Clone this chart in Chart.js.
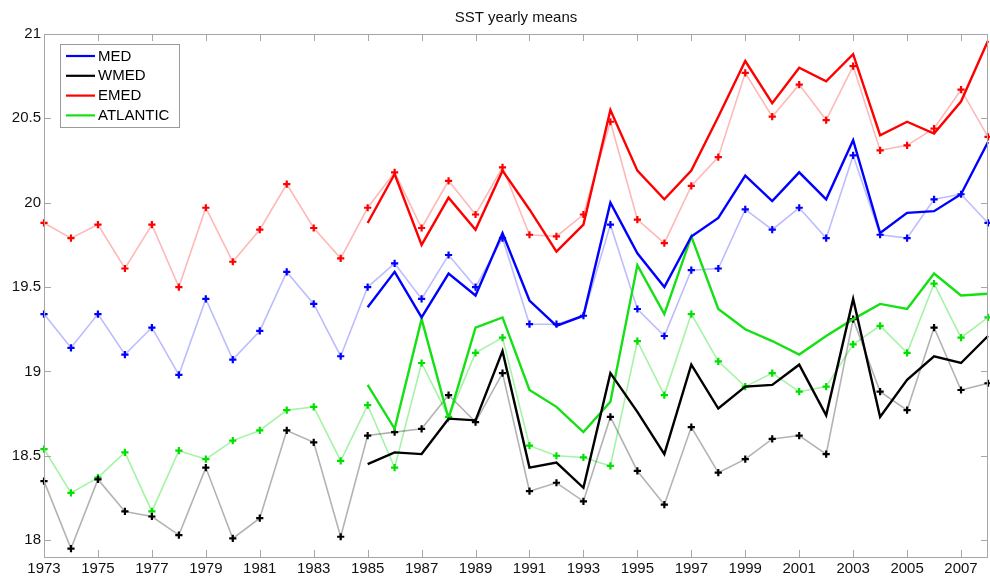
<!DOCTYPE html>
<html>
<head>
<meta charset="utf-8">
<script src="https://cdn.jsdelivr.net/npm/chart.js@4/dist/chart.umd.min.js"></script>
<style>
html,body{margin:0;padding:0;background:#fff;}
#wrap{width:990px;height:577px;position:relative;}
</style>
</head>
<body>
<div id="wrap"><canvas id="c" width="990" height="577"></canvas></div>
<script>
const title = 'SST yearly means';
const seriesNames = ['MED', 'WMED', 'EMED', 'ATLANTIC'];
const yearsAll = [1973,1974,1975,1976,1977,1978,1979,1980,1981,1982,1983,1984,1985,1986,1987,1988,1989,1990,1991,1992,1993,1994,1995,1996,1997,1998,1999,2000,2001,2002,2003,2004,2005,2006,2007,2008];
const yearsRecent = [1985,1986,1987,1988,1989,1990,1991,1992,1993,1994,1995,1996,1997,1998,1999,2000,2001,2002,2003,2004,2005,2006,2007,2008];
const xTickLabels = [1973,1975,1977,1979,1981,1983,1985,1987,1989,1991,1993,1995,1997,1999,2001,2003,2005,2007];
const yTickLabels = [18,18.5,19,19.5,20,20.5,21];

// Light series with markers (1973-2008)
const medAll  = [19.34,19.14,19.34,19.10,19.26,18.98,19.43,19.07,19.24,19.59,19.40,19.09,19.50,19.64,19.43,19.69,19.50,19.79,19.28,19.28,19.33,19.87,19.37,19.21,19.60,19.61,19.96,19.84,19.97,19.79,20.28,19.81,19.79,20.02,20.05,19.88];
const wmedAll = [18.35,17.95,18.36,18.17,18.14,18.03,18.43,18.01,18.13,18.65,18.58,18.02,18.62,18.64,18.66,18.86,18.70,18.99,18.29,18.34,18.23,18.73,18.41,18.21,18.67,18.40,18.48,18.60,18.62,18.51,19.31,18.88,18.77,19.26,18.89,18.93];
const emedAll = [19.88,19.79,19.87,19.61,19.87,19.50,19.97,19.65,19.84,20.11,19.85,19.67,19.97,20.18,19.85,20.13,19.93,20.21,19.81,19.80,19.93,20.48,19.90,19.76,20.10,20.27,20.77,20.51,20.70,20.49,20.81,20.31,20.34,20.44,20.67,20.39];
const atlAll  = [18.54,18.28,18.37,18.52,18.17,18.53,18.48,18.59,18.65,18.77,18.79,18.47,18.80,18.43,19.05,18.73,19.11,19.20,18.56,18.50,18.49,18.44,19.18,18.86,19.34,19.06,18.91,18.99,18.88,18.91,19.16,19.27,19.11,19.52,19.20,19.32];

// Dark series (1985-2008)
const medRecent  = [19.38,19.59,19.32,19.58,19.45,19.82,19.42,19.27,19.33,20.00,19.70,19.50,19.80,19.91,20.16,20.01,20.18,20.02,20.37,19.82,19.94,19.95,20.05,20.36];
const wmedRecent = [18.45,18.52,18.51,18.72,18.71,19.12,18.43,18.46,18.31,18.99,18.76,18.51,19.04,18.78,18.91,18.92,19.04,18.74,19.43,18.73,18.95,19.09,19.05,19.21];
const emedRecent = [19.88,20.17,19.75,20.03,19.84,20.19,19.96,19.71,19.87,20.55,20.19,20.02,20.19,20.51,20.84,20.59,20.80,20.72,20.88,20.40,20.48,20.41,20.60,20.96];
const atlRecent  = [18.92,18.66,19.31,18.72,19.26,19.32,18.89,18.79,18.64,18.82,19.63,19.34,19.80,19.37,19.25,19.18,19.10,19.21,19.31,19.40,19.37,19.58,19.45,19.46];

const darkColors  = ['#0000ff', '#000000', '#ff0000', '#14e014'];
const lightColors = ['rgba(80,80,255,0.38)', 'rgba(0,0,0,0.30)', 'rgba(255,40,40,0.33)', 'rgba(30,225,30,0.40)'];
const markerColors = ['#0000ff', '#000000', '#ff0000', '#00e000'];

const FONT = '"Liberation Sans", Arial, Helvetica, sans-serif';

function pts(xs, ys) { return xs.map((x, i) => ({x: x, y: ys[i]})); }

const lightData = [medAll, wmedAll, emedAll, atlAll];
const darkData = [medRecent, wmedRecent, emedRecent, atlRecent];

const datasets = [];
lightData.forEach((d, i) => {
  datasets.push({
    label: seriesNames[i] + ' (all years)',
    data: pts(yearsAll, d),
    borderColor: lightColors[i],
    borderWidth: 1.6,
    pointStyle: 'cross',
    pointRadius: 3.6,
    pointBorderWidth: 2.2,
    pointBorderColor: markerColors[i],
    pointBackgroundColor: markerColors[i],
    tension: 0,
    clip: false,
    order: 2
  });
});
darkData.forEach((d, i) => {
  datasets.push({
    label: seriesNames[i],
    data: pts(yearsRecent, d),
    borderColor: darkColors[i],
    borderWidth: 2.4,
    pointRadius: 0,
    tension: 0,
    clip: false,
    order: 1
  });
});

const framePlugin = {
  id: 'frame',
  afterDatasetsDraw(chart) {
    const ctx = chart.ctx;
    const a = chart.chartArea;
    const xs = chart.scales.x, ys = chart.scales.y;
    ctx.save();
    ctx.strokeStyle = '#a6a6a6';
    ctx.lineWidth = 1;
    ctx.strokeRect(Math.round(a.left) + 0.5, Math.round(a.top) + 0.5, Math.round(a.right - a.left) - 1, Math.round(a.bottom - a.top));
    const tl = 7;
    ctx.beginPath();
    xTickLabels.forEach(v => {
      const px = Math.round(xs.getPixelForValue(v)) + 0.5;
      ctx.moveTo(px, a.bottom); ctx.lineTo(px, a.bottom - tl);
      ctx.moveTo(px, a.top); ctx.lineTo(px, a.top + tl);
    });
    yTickLabels.forEach(v => {
      const py = Math.round(ys.getPixelForValue(v)) + 0.5;
      ctx.moveTo(a.left, py); ctx.lineTo(a.left + tl, py);
      ctx.moveTo(a.right, py); ctx.lineTo(a.right - tl, py);
    });
    ctx.stroke();

    // Title
    ctx.fillStyle = '#111';
    ctx.font = '15px ' + FONT;
    ctx.textAlign = 'center';
    ctx.textBaseline = 'alphabetic';
    ctx.fillText(title, (a.left + a.right) / 2, 22);

    // Legend
    const bx = 60.5, by = 44.5, bw = 119, bh = 83;
    ctx.fillStyle = '#fff';
    ctx.fillRect(bx, by, bw, bh);
    ctx.strokeStyle = '#9a9a9a';
    ctx.lineWidth = 1;
    ctx.strokeRect(bx, by, bw, bh);
    ctx.font = '15px ' + FONT;
    ctx.textAlign = 'left';
    ctx.textBaseline = 'middle';
    seriesNames.forEach((name, i) => {
      const yy = 56 + i * 19.8;
      ctx.strokeStyle = darkColors[i];
      ctx.lineWidth = 2.2;
      ctx.beginPath();
      ctx.moveTo(66, yy); ctx.lineTo(95, yy);
      ctx.stroke();
      ctx.fillStyle = '#000';
      ctx.fillText(name, 98, yy + 0.5);
    });
    ctx.restore();
  }
};

new Chart(document.getElementById('c'), {
  type: 'line',
  data: { datasets: datasets },
  options: {
    responsive: false,
    animation: false,
    devicePixelRatio: 1,
    layout: { autoPadding: false, padding: { top: 34, right: 2, left: 0, bottom: 0 } },
    plugins: {
      legend: { display: false },
      title: { display: false },
      tooltip: { enabled: false }
    },
    scales: {
      x: {
        type: 'linear',
        min: 1973,
        max: 2008,
        grid: { display: false, drawTicks: false },
        border: { display: false },
        afterBuildTicks: s => { s.ticks = xTickLabels.map(v => ({ value: v })); },
        afterFit: s => { s.height = 20; s.paddingLeft = 0; s.paddingRight = 0; },
        ticks: {
          padding: 3,
          autoSkip: false,
          maxRotation: 0,
          color: '#111',
          font: { family: FONT, size: 15 },
          callback: v => String(v)
        }
      },
      y: {
        type: 'linear',
        min: 17.9,
        max: 21,
        grid: { display: false, drawTicks: false },
        border: { display: false },
        afterBuildTicks: s => { s.ticks = yTickLabels.map(v => ({ value: v })); },
        afterFit: s => { s.width = 44; s.paddingTop = 0; s.paddingBottom = 0; },
        ticks: {
          padding: 3,
          color: '#111',
          font: { family: FONT, size: 15 },
          callback: v => String(v)
        }
      }
    }
  },
  plugins: [framePlugin]
});
</script>
</body>
</html>
